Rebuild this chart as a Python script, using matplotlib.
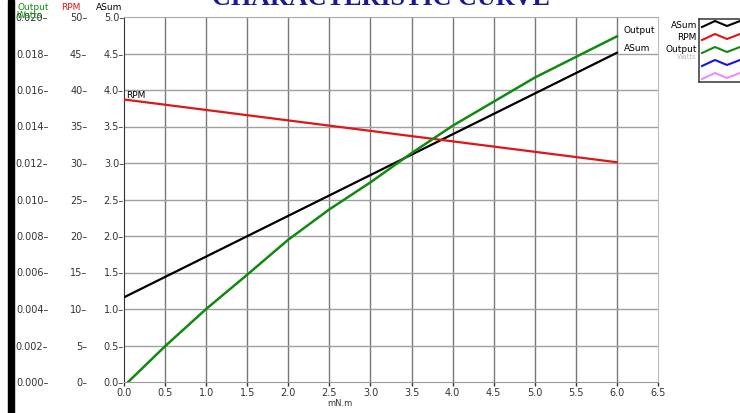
import matplotlib
matplotlib.use("Agg")
import matplotlib.pyplot as plt

# Donnees
torque_asum = [0.0, 6.0]
asum = [1.16, 4.51]

torque_rpm = [0.0, 6.0]
rpm = [38.7, 30.1]

torque_out = [0.05, 0.5, 1.0, 1.5, 2.0, 2.5, 3.0, 3.5, 4.0, 5.0, 6.0]
output_w = [0.0, 0.00196, 0.0040, 0.00588, 0.0078, 0.00946, 0.01094,
            0.01254, 0.01404, 0.01668, 0.01894]

x_ticks = [0.0, 0.5, 1.0, 1.5, 2.0, 2.5, 3.0, 3.5, 4.0, 4.5, 5.0, 5.5, 6.0, 6.5]
asum_ticks = [0.0, 0.5, 1.0, 1.5, 2.0, 2.5, 3.0, 3.5, 4.0, 4.5, 5.0]
rpm_ticks = [0, 5, 10, 15, 20, 25, 30, 35, 40, 45, 50]
out_ticks = [0.000, 0.002, 0.004, 0.006, 0.008, 0.010, 0.012, 0.014,
             0.016, 0.018, 0.020]

GREEN = "#128a12"
RED = "#e01515"
TICK_COL = "#333333"

W, H = 740, 413
fig = plt.figure(figsize=(7.4, 4.13), dpi=100)
fig.patch.set_facecolor("white")

ax = fig.add_axes([124 / W, 1 - 382 / H, (658 - 124) / W, (382 - 17) / H])
ax_rpm = ax.twinx()
ax_out = ax.twinx()

# Courbes
ax.plot(torque_asum, asum, color="black", lw=1.6, zorder=3)
ax_rpm.plot(torque_rpm, rpm, color=RED, lw=1.6, zorder=3)
ax_out.plot(torque_out, output_w, color=GREEN, lw=1.8, zorder=3)

ax.set_xlim(0, 6.5)
ax.set_ylim(0, 5.0)
ax_rpm.set_ylim(0, 50)
ax_out.set_ylim(0, 0.020)

# Grille
for x in x_ticks[1:-1]:
    ax.axvline(x, color="#777777", lw=1.0, zorder=1)
for y in asum_ticks[1:-1]:
    ax.axhline(y, color="#a0a0a0", lw=1.0, zorder=1)

ax.spines["left"].set_color("#333333")
ax.spines["bottom"].set_color("#999999")
ax.spines["top"].set_color("#aaaaaa")
ax.spines["right"].set_color("#bbbbbb")
for a in (ax_rpm, ax_out):
    for s in a.spines.values():
        s.set_visible(False)

# Axe x
ax.set_xticks(x_ticks)
ax.set_xticklabels([f"{v:.1f}" for v in x_ticks])
ax.tick_params(axis="x", length=3, width=1, color="#333333", pad=1,
               labelsize=7, labelcolor=TICK_COL)

# Trois echelles a gauche
ax.set_yticks(asum_ticks)
ax.set_yticklabels([f"{v:.1f}\u2013" for v in asum_ticks])
ax.tick_params(axis="y", length=0, pad=0, labelsize=7, labelcolor=TICK_COL)

ax_rpm.yaxis.tick_left()
ax_rpm.spines["left"].set_position(("outward", 26.5))
ax_rpm.set_yticks(rpm_ticks)
ax_rpm.set_yticklabels([f"{v}\u2013" for v in rpm_ticks])
ax_rpm.tick_params(axis="y", length=0, pad=0, labelsize=7, labelcolor=TICK_COL)

ax_out.yaxis.tick_left()
ax_out.spines["left"].set_position(("outward", 54.5))
ax_out.set_yticks(out_ticks)
ax_out.set_yticklabels([f"{v:.3f}\u2013" for v in out_ticks])
ax_out.tick_params(axis="y", length=0, pad=0, labelsize=7, labelcolor=TICK_COL)

# Etiquettes des courbes
ax.text(6.08, 4.82, "Output", fontsize=6.5, va="center", ha="left")
ax.text(6.08, 4.57, "ASum", fontsize=6.5, va="center", ha="left")
ax.text(0.03, 3.92, "RPM", fontsize=6.5, va="center", ha="left")

# En-tetes des axes
fig.text(17 / W, 1 - 8 / H, "Output", color=GREEN, fontsize=6.5, va="center")
fig.text(17 / W, 1 - 15 / H, "Watts", color=GREEN, fontsize=6.5, va="center")
fig.text(61 / W, 1 - 8 / H, "RPM", color=RED, fontsize=6.5, va="center")
fig.text(96 / W, 1 - 8 / H, "ASum", color="black", fontsize=6.5, va="center")

fig.text(340 / W, 1 - 403 / H, "mN.m", fontsize=6, ha="center", va="center",
         color=TICK_COL)

# Titre (coupe en haut)
fig.text(381 / W, 1 - 5 / H, "CHARACTERISTIC CURVE", ha="center",
         va="baseline", fontsize=18.8, fontweight="bold",
         family="Liberation Serif", color="#1a1a90")

# Barre noire a gauche
fig.patches.append(plt.Rectangle((8 / W, 0), 6 / W, 1, transform=fig.transFigure,
                                 color="black", zorder=5))

# Legende dessinee a droite
leg = fig.add_axes([699 / W, 1 - 82 / H, 70 / W, 63 / H])
leg.set_xlim(699, 769)
leg.set_ylim(82, 19)
leg.set_xticks([])
leg.set_yticks([])
for s in leg.spines.values():
    s.set_color("#444444")
    s.set_linewidth(1.2)
zig_x = [702, 715, 727, 740, 753]
zig_dy = [3, -3, 2, -3, 3]
rows = [(24, "black"), (37, RED), (50, GREEN), (63, "#1515e0"), (76, "#f08cf0")]
for yc, col in rows:
    leg.plot(zig_x, [yc + d for d in zig_dy], color=col, lw=1.5)
for yc, lab in [(26, "ASum"), (38, "RPM"), (50, "Output")]:
    fig.text(697 / W, 1 - yc / H, lab, fontsize=6.5, ha="right", va="center")
fig.text(697 / W, 1 - 57 / H, "Watts", fontsize=5, ha="right", va="center",
         color="#bbbbbb")

fig.savefig("out.png", dpi=100, facecolor="white")
